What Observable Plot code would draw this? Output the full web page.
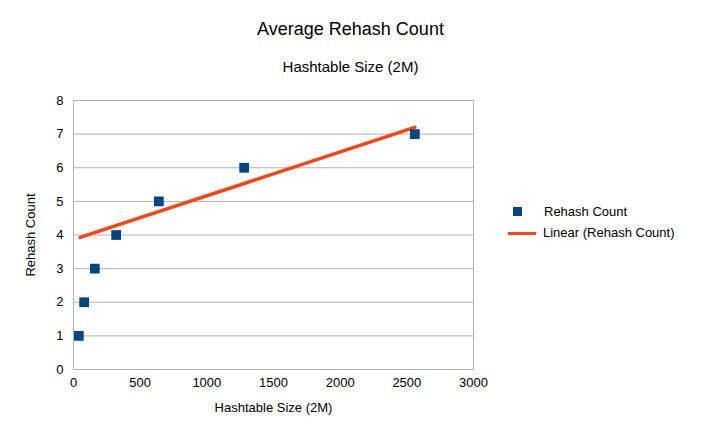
<!DOCTYPE html>
<html><head>
<script src="https://cdn.jsdelivr.net/npm/d3@7"></script>
<script src="https://cdn.jsdelivr.net/npm/@observablehq/plot@0.6"></script>
<style>
body{margin:0;background:#fff;font-family:"Liberation Sans",Arial,sans-serif;}
#c{position:relative;width:701px;height:443px;}
.t{position:absolute;white-space:nowrap;color:#000;}
</style></head><body>
<div id="c">
<div class="t" style="left:0;width:701px;text-align:center;top:19px;font-size:18px;">Average Rehash Count</div>
<div class="t" style="left:0;width:701px;text-align:center;top:58px;font-size:15px;">Hashtable Size (2M)</div>
<div class="t" style="left:513px;top:204px;font-size:13px;"><span style="display:inline-block;width:9px;height:9px;background:#004586;margin-right:22px;"></span>Rehash Count</div>
<div class="t" style="left:508px;top:225px;font-size:13px;"><span style="display:inline-block;width:28px;height:3px;background:#ff420e;vertical-align:middle;margin-right:7px;"></span>Linear (Rehash Count)</div>
</div>
<script>
const sizes = [40, 80, 160, 320, 640, 1280, 2560];
const counts = [1, 2, 3, 4, 5, 6, 7];
const trendX = [50, 2560];
const trendY = [3.93, 7.2];
const xTicks = [0, 500, 1000, 1500, 2000, 2500, 3000];
const pts = sizes.map((x,i)=>({x, y:counts[i]}));
const trend = trendX.map((x,i)=>({x, y:trendY[i]}));
const chart = Plot.plot({
  width:701, height:443,
  marginLeft:73, marginRight:228, marginTop:100, marginBottom:74,
  style:{fontFamily:"Liberation Sans, Arial, sans-serif", fontSize:"13px", color:"#000"},
  x:{domain:[0,3000], label:null},
  y:{domain:[0,8], label:null},
  marks:[
    Plot.gridY({ticks:d3.range(0,9), stroke:"#b3b3b3", strokeOpacity:1}),
    Plot.frame({stroke:"#b3b3b3"}),
    Plot.line(trend,{x:"x",y:"y",stroke:"#ff420e",strokeWidth:3.5}),
    Plot.dot(pts,{x:"x",y:"y",symbol:"square",r:5.5,fill:"#004586"}),
    Plot.axisX({ticks:xTicks, tickFormat:d=>String(d), tickSize:0, tickPadding:8, label:"Hashtable Size (2M)", labelAnchor:"center", labelOffset:42, labelArrow:"none"}),
    Plot.axisY({ticks:d3.range(0,9), tickFormat:d=>String(d), tickSize:0, tickPadding:10, label:"Rehash Count", labelAnchor:"center", labelOffset:48, labelArrow:"none"})
  ]
});
chart.style.position="absolute"; chart.style.left="0"; chart.style.top="0";
document.getElementById("c").prepend(chart);
</script>
</body></html>
